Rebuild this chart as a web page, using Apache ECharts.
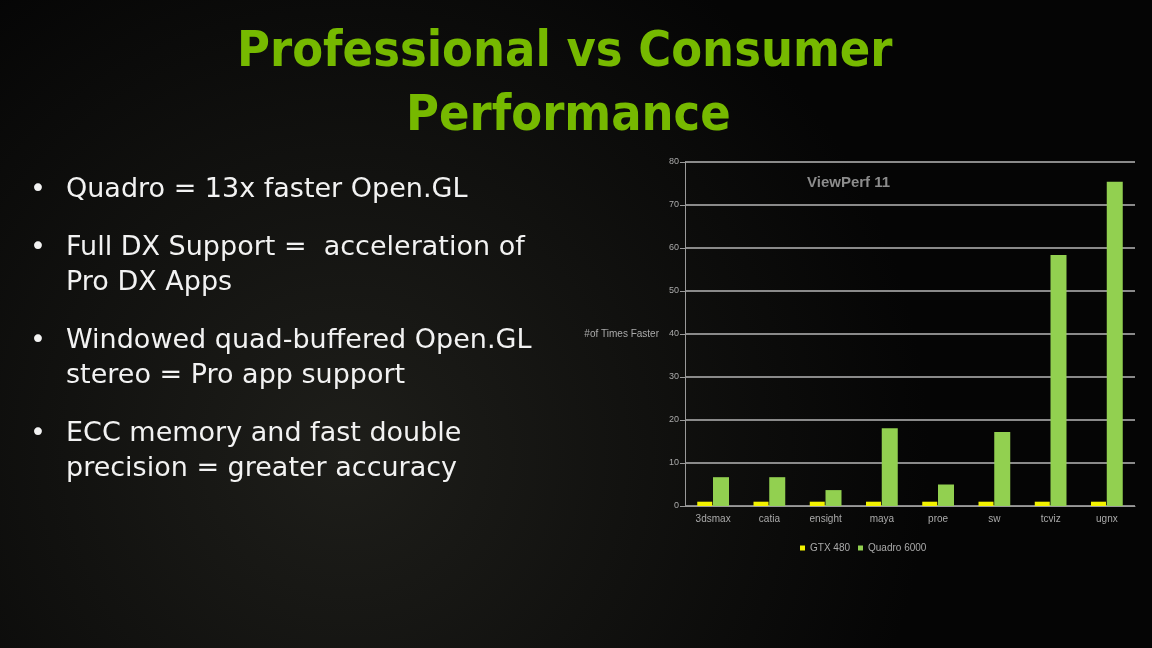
<!DOCTYPE html>
<html><head><meta charset="utf-8">
<script src="https://cdn.jsdelivr.net/npm/echarts@6/dist/echarts.min.js"></script>
<style>html,body{margin:0;padding:0;background:#000}#c{width:1152px;height:648px}</style>
</head><body><div id="c"></div>
<script>
const categories = ['3dsmax','catia','ensight','maya','proe','sw','tcviz','ugnx'];
const gtx480 = [1,1,1,1,1,1,1,1];
const quadro6000 = [6.7,6.7,3.7,18.1,5.0,17.2,58.4,75.4];
const yTicks = [0,80,10];
const bullets = [
  ['Quadro = 13x faster Open.GL', 193],
  ['Full DX Support =  acceleration of', 251],
  ['Pro DX Apps', 286],
  ['Windowed quad-buffered Open.GL', 344],
  ['stereo = Pro app support', 379],
  ['ECC memory and fast double', 437],
  ['precision = greater accuracy', 472]
];
const dots = [193, 251, 344, 437];
const chart = echarts.init(document.getElementById('c'));
const gfx = [];
bullets.forEach(b => gfx.push({type:'text', left:66, top:b[1]-17, style:{text:b[0], fill:'#f2f2f2', font:'27px "DejaVu Sans"'}}));
dots.forEach(y => gfx.push({type:'text', left:30, top:y-17, style:{text:'•', fill:'#f2f2f2', font:'27px "DejaVu Sans"'}}));
chart.setOption({
  backgroundColor: {type:'radial', x:0.3, y:0.7, r:0.9, colorStops:[{offset:0,color:'#1e1e1a'},{offset:1,color:'#050505'}]},
  graphic: [
    ...gfx,
    {type:'text', left:237, top:28, style:{text:'Professional vs Consumer', fill:'#76b900', font:'bold 50px "DejaVu Sans Condensed"'}},
    {type:'text', left:406, top:92, style:{text:'Performance', fill:'#76b900', font:'bold 50px "DejaVu Sans Condensed"'}},
    {type:'text', left:807, top:175, style:{text:'ViewPerf 11', fill:'#8c8c8c', font:'bold 15px "Liberation Sans"'}}
  ],
  legend: {bottom:90, left:795, itemWidth:5, itemHeight:5, itemGap:8, icon:'rect',
    textStyle:{color:'#aaa', fontSize:10, fontFamily:'Liberation Sans'},
    data:['GTX 480','Quadro 6000']},
  grid: {left:685, right:17, top:162, bottom:142},
  xAxis: {type:'category', data:categories,
    axisLine:{lineStyle:{color:'#999'}}, axisTick:{lineStyle:{color:'#999'}},
    axisLabel:{color:'#aaa', fontSize:10, fontFamily:'Liberation Sans', margin:8}},
  yAxis: {type:'value', min:yTicks[0], max:yTicks[1], interval:yTicks[2],
    name:'#of Times Faster', nameLocation:'middle', nameRotate:0, nameGap:26,
    nameTextStyle:{color:'#aaa', fontSize:10, fontFamily:'Liberation Sans', align:'right'},
    axisLine:{show:true, lineStyle:{color:'#999'}},
    axisTick:{show:true, lineStyle:{color:'#999'}},
    axisLabel:{color:'#aaa', fontSize:9, fontFamily:'Liberation Sans', margin:6},
    splitLine:{lineStyle:{color:'#8a8a8a', width:2}}},
  series: [
    {name:'GTX 480', type:'bar', data:gtx480, itemStyle:{color:'#f2f200'}, barWidth:15, barGap:'5%'},
    {name:'Quadro 6000', type:'bar', data:quadro6000, itemStyle:{color:'#92d050'}, barWidth:16}
  ]
});
</script></body></html>
